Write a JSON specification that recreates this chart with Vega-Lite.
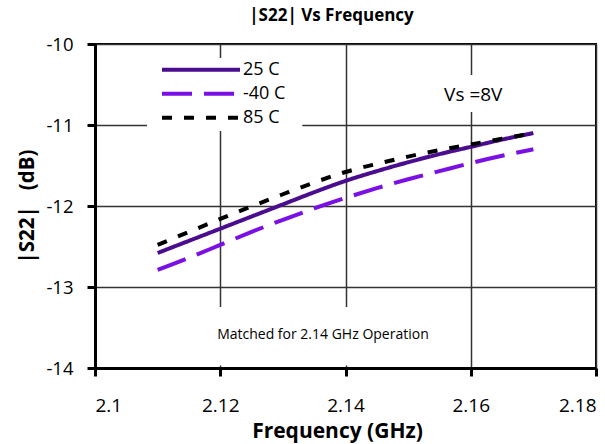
{
  "$schema": "https://vega.github.io/schema/vega-lite/v6.json",
  "width": 501,
  "height": 324,
  "autosize": {"type": "none"},
  "padding": {"left": 95, "top": 44, "right": 9, "bottom": 76},
  "background": "white",
  "title": {"text": "|S22| Vs Frequency", "font": "Open Sans", "fontSize": 17, "fontWeight": "bold", "color": "black", "anchor": "middle", "dx": -14, "offset": 10},
  "config": {
    "font": "Open Sans",
    "view": {"stroke": "black", "strokeWidth": 2},
    "axis": {
      "grid": true, "gridColor": "#333333", "gridWidth": 1.5, "gridOpacity": 1,
      "domainColor": "black", "domainWidth": 3,
      "tickColor": "black", "tickWidth": 3, "tickSize": 8,
      "labelFont": "Open Sans", "labelColor": "black",
      "titleFont": "Open Sans", "titleFontWeight": "bold", "titleColor": "black"
    },
    "legend": {
      "orient": "none", "legendX": 65, "legendY": 14,
      "symbolType": "stroke", "symbolSize": 6084, "symbolStrokeWidth": 4,
      "clipHeight": 23.5, "rowPadding": 0, "padding": 0,
      "labelFont": "Open Sans", "labelFontSize": 18, "labelColor": "black", "labelOffset": 1,
      "symbolOffset": 0
    }
  },
  "layer": [
    {
      "data": {"values": [{}]},
      "mark": {"type": "rect", "fill": "white"},
      "encoding": {
        "x": {"datum": 2.1083, "type": "quantitative"},
        "x2": {"datum": 2.1331},
        "y": {"datum": -10.173, "type": "quantitative"},
        "y2": {"datum": -11.074}
      }
    },
    {
      "data": {"values": [{}]},
      "mark": {"type": "rect", "fill": "white"},
      "encoding": {
        "x": {"datum": 2.1551, "type": "quantitative"},
        "x2": {"datum": 2.1656},
        "y": {"datum": -10.383, "type": "quantitative"},
        "y2": {"datum": -10.84}
      }
    },
    {
      "data": {"values": [{}]},
      "mark": {"type": "rect", "fill": "white"},
      "encoding": {
        "x": {"datum": 2.1168, "type": "quantitative"},
        "x2": {"datum": 2.1567},
        "y": {"datum": -13.247, "type": "quantitative"},
        "y2": {"datum": -13.97}
      }
    },
    {
      "data": {"values": [
        {"freq": 2.11, "s22": -12.58, "temp": "25 C"},
        {"freq": 2.115, "s22": -12.43, "temp": "25 C"},
        {"freq": 2.12, "s22": -12.28, "temp": "25 C"},
        {"freq": 2.125, "s22": -12.13, "temp": "25 C"},
        {"freq": 2.13, "s22": -11.98, "temp": "25 C"},
        {"freq": 2.135, "s22": -11.83, "temp": "25 C"},
        {"freq": 2.14, "s22": -11.69, "temp": "25 C"},
        {"freq": 2.145, "s22": -11.57, "temp": "25 C"},
        {"freq": 2.15, "s22": -11.46, "temp": "25 C"},
        {"freq": 2.155, "s22": -11.36, "temp": "25 C"},
        {"freq": 2.16, "s22": -11.27, "temp": "25 C"},
        {"freq": 2.165, "s22": -11.18, "temp": "25 C"},
        {"freq": 2.17, "s22": -11.10, "temp": "25 C"},
        {"freq": 2.11, "s22": -12.79, "temp": "-40 C"},
        {"freq": 2.115, "s22": -12.64, "temp": "-40 C"},
        {"freq": 2.12, "s22": -12.48, "temp": "-40 C"},
        {"freq": 2.125, "s22": -12.32, "temp": "-40 C"},
        {"freq": 2.13, "s22": -12.17, "temp": "-40 C"},
        {"freq": 2.135, "s22": -12.03, "temp": "-40 C"},
        {"freq": 2.14, "s22": -11.90, "temp": "-40 C"},
        {"freq": 2.145, "s22": -11.78, "temp": "-40 C"},
        {"freq": 2.15, "s22": -11.67, "temp": "-40 C"},
        {"freq": 2.155, "s22": -11.57, "temp": "-40 C"},
        {"freq": 2.16, "s22": -11.47, "temp": "-40 C"},
        {"freq": 2.165, "s22": -11.38, "temp": "-40 C"},
        {"freq": 2.17, "s22": -11.30, "temp": "-40 C"},
        {"freq": 2.11, "s22": -12.48, "temp": "85 C"},
        {"freq": 2.115, "s22": -12.32, "temp": "85 C"},
        {"freq": 2.12, "s22": -12.16, "temp": "85 C"},
        {"freq": 2.125, "s22": -12.005, "temp": "85 C"},
        {"freq": 2.13, "s22": -11.855, "temp": "85 C"},
        {"freq": 2.135, "s22": -11.71, "temp": "85 C"},
        {"freq": 2.14, "s22": -11.58, "temp": "85 C"},
        {"freq": 2.145, "s22": -11.48, "temp": "85 C"},
        {"freq": 2.15, "s22": -11.39, "temp": "85 C"},
        {"freq": 2.155, "s22": -11.31, "temp": "85 C"},
        {"freq": 2.16, "s22": -11.24, "temp": "85 C"},
        {"freq": 2.165, "s22": -11.17, "temp": "85 C"},
        {"freq": 2.17, "s22": -11.10, "temp": "85 C"}
      ]},
      "mark": {"type": "line", "strokeWidth": 4, "interpolate": "monotone"},
      "encoding": {
        "x": {"field": "freq", "type": "quantitative", "title": "Frequency (GHz)",
              "scale": {"domain": [2.1, 2.18], "nice": false, "zero": false},
              "axis": {"values": [2.1, 2.12, 2.14, 2.16, 2.18], "format": ".2~f", "labelFontSize": 19, "labelPadding": 20,
                       "titleFontSize": 21, "titleX": 242, "titleY": 69, "titleBaseline": "alphabetic", "titleAnchor": "middle"}},
        "y": {"field": "s22", "type": "quantitative", "title": "|S22|\u00a0\u00a0\u00a0(dB)",
              "scale": {"domain": [-14, -10], "nice": false, "zero": false},
              "axis": {"values": [-14, -13, -12, -11, -10], "labelExpr": "'' + datum.value", "labelFontSize": 18.5, "labelPadding": 14,
                       "titleFontSize": 20.5, "titlePadding": 8}},
        "color": {"field": "temp", "type": "nominal", "title": null,
                  "scale": {"domain": ["25 C", "-40 C", "85 C"], "range": ["#4B0D8F", "#7A10E4", "#000000"]}},
        "strokeDash": {"field": "temp", "type": "nominal", "title": null,
                       "scale": {"domain": ["25 C", "-40 C", "85 C"], "range": [[1, 0], [30, 12], [10, 12]]}}
      }
    },
    {
      "data": {"values": [{"label": "Vs =8V"}]},
      "mark": {"type": "text", "fontSize": 19, "color": "black", "align": "center", "baseline": "middle"},
      "encoding": {
        "x": {"datum": 2.1604, "type": "quantitative"},
        "y": {"datum": -10.63, "type": "quantitative"},
        "text": {"field": "label"}
      }
    },
    {
      "data": {"values": [{"label": "Matched for 2.14 GHz Operation"}]},
      "mark": {"type": "text", "fontSize": 14, "color": "black", "align": "center", "baseline": "middle"},
      "encoding": {
        "x": {"datum": 2.1364, "type": "quantitative"},
        "y": {"datum": -13.59, "type": "quantitative"},
        "text": {"field": "label"}
      }
    }
  ]
}
